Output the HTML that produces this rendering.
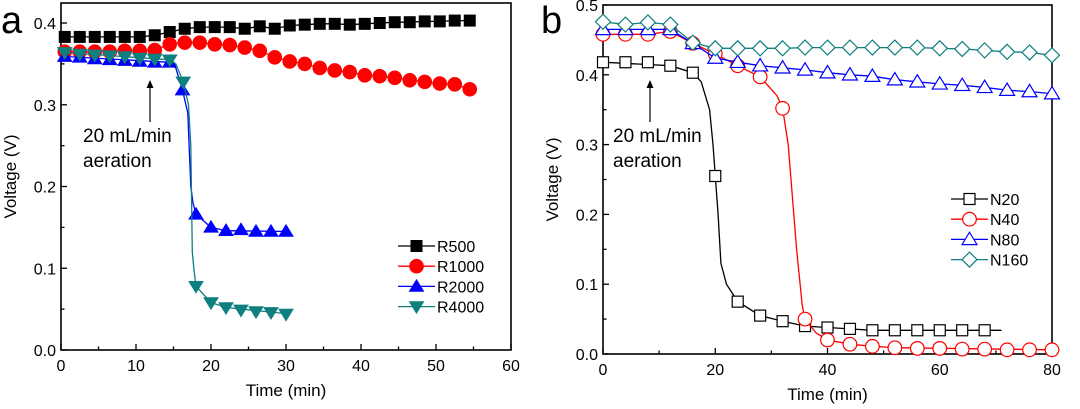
<!DOCTYPE html>
<html><head><meta charset="utf-8"><style>
html,body{margin:0;padding:0;background:#fff;}
svg{display:block;font-family:"Liberation Sans",Arial,sans-serif;}
</style></head><body>
<svg id="s" width="1080" height="409" viewBox="0 0 1080 409" xmlns="http://www.w3.org/2000/svg">
<text x="1" y="33" font-size="38" fill="#000">a</text>
<text x="541" y="33" font-size="38" fill="#000">b</text>
</svg>
<script>
const S=document.getElementById('s');const NS='http://www.w3.org/2000/svg';
function el(t,a,txt){const e=document.createElementNS(NS,t);for(const k in a)e.setAttribute(k,a[k]);if(txt!==undefined)e.textContent=txt;S.appendChild(e);return e;}
function panel(P){
 const X=v=>P.x0+(v-P.xmin)/(P.xmax-P.xmin)*(P.x1-P.x0);
 const Y=v=>P.y0-(v)/(P.ymax)*(P.y0-P.y1);
 for(let v=0;v<=P.xmax+1e-9;v+=P.xminor){const maj=Math.abs(v/P.xmajor-Math.round(v/P.xmajor))<1e-6;const x=X(v);
  el('line',{x1:x,x2:x,y1:P.y0,y2:P.y0-(maj?6:3.5),stroke:'#000','stroke-width':1.3});
  if(maj) el('text',{x:x,y:P.y0+21,'font-size':16,'text-anchor':'middle'},String(v));}
 for(let v=0;v<=P.ymax+1e-9;v+=P.yminor){const maj=Math.abs(v/P.ymajor-Math.round(v/P.ymajor))<1e-6;const y=Y(v);
  el('line',{x1:P.x0,x2:P.x0+(maj?6:3.5),y1:y,y2:y,stroke:'#000','stroke-width':1.3});
  if(maj) el('text',{x:P.x0-5,y:y+6,'font-size':16,'text-anchor':'end'},v.toFixed(1));}
 el('rect',{x:P.x0,y:P.y1,width:P.x1-P.x0,height:P.y0-P.y1,fill:'none',stroke:'#000','stroke-width':1.6});
 el('text',{x:(P.x0+P.x1)/2,y:P.y0+46,'font-size':17,'text-anchor':'middle'},'Time (min)');
 el('text',{x:0,y:0,'font-size':17,'text-anchor':'middle',transform:`translate(${P.x0-45},${(P.y0+P.y1)/2}) rotate(-90)`},'Voltage (V)');
 const a=P.arrow;el('line',{x1:a[0],x2:a[0],y1:a[2],y2:a[1]+6,stroke:'#000','stroke-width':1.2});
 el('polygon',{points:`${a[0]-3.5},${a[1]+8} ${a[0]+3.5},${a[1]+8} ${a[0]},${a[1]}`,fill:'#000'});
 el('text',{x:P.ann[0],y:P.ann[1],'font-size':19},'20 mL/min');el('text',{x:P.ann[0],y:P.ann[1]+25,'font-size':19},'aeration');
 P.series.forEach((s,i)=>{
  const pts=s.line.map(p=>X(p[0]).toFixed(1)+','+Y(p[1]).toFixed(1)).join(' ');
  el('polyline',{points:pts,fill:'none',stroke:s.c,'stroke-width':1.3});
  s.m.forEach(p=>mark(s,X(p[0]),Y(p[1])));
  const ly=P.leg[1]+i*P.legdy,lx=P.leg[0];
  el('line',{x1:lx,x2:lx+37,y1:ly,y2:ly,stroke:s.c,'stroke-width':1.3});mark(s,lx+18.5,ly);
  el('text',{x:lx+39,y:ly+6,'font-size':16},s.n);
 });
}
function mark(s,x,y){const r=s.r||6;const f=s.open?'#fff':s.c;const st={fill:f,stroke:s.c,'stroke-width':s.open?1.2:1};
 if(s.t=='sq')el('rect',Object.assign({x:x-r,y:y-r,width:2*r,height:2*r},st));
 else if(s.t=='ci')el('circle',Object.assign({cx:x,cy:y,r:r+0.8},st));
 else if(s.t=='up')el('polygon',Object.assign({points:`${x-r-1},${y+r*0.8} ${x+r+1},${y+r*0.8} ${x},${y-r*1.1}`},st));
 else if(s.t=='dn')el('polygon',Object.assign({points:`${x-r-1},${y-r*0.8} ${x+r+1},${y-r*0.8} ${x},${y+r*1.1}`},st));
 else if(s.t=='di')el('polygon',Object.assign({points:`${x},${y-r-1.5} ${x+r+1.5},${y} ${x},${y+r+1.5} ${x-r-1.5},${y}`},st));}
function mk(xs,ys){return xs.map((x,i)=>[x,ys[i]]);}
const tA=[];for(let i=0;i<28;i++)tA.push(0.5+2*i);
const r500=[.383,.383,.383,.383,.383,.383,.385,.389,.393,.395,.395,.395,.393,.396,.393,.397,.398,.399,.399,.398,.399,.400,.401,.401,.402,.402,.403,.403];
const r1000=[.365,.365,.365,.365,.366,.366,.367,.374,.376,.376,.374,.373,.370,.366,.358,.353,.350,.345,.342,.340,.336,.335,.333,.330,.328,.326,.325,.319];
const r2m=mk([0.5,2.5,4.5,6.5,8.5,10.5,12.5,14.5,16.2,18,20,22,24,26,28,30],[.359,.358,.356,.355,.354,.353,.352,.352,.318,.166,.150,.146,.147,.145,.145,.145]);
const r2l=[[0.5,.359],[14.5,.352],[15.3,.345],[16.2,.318],[16.9,.29],[17.3,.2],[17.6,.18],[18,.166],[20,.150],[22,.146],[30.5,.145]];
const r4m=mk([0.5,2.5,4.5,6.5,8.5,10.5,12.5,14.5,16.3,18,20,22,24,26,28,30],[.364,.362,.361,.360,.359,.357,.356,.355,.328,.078,.058,.052,.049,.047,.046,.044]);
const r4l=[[0.5,.364],[14.5,.355],[15.3,.35],[16.3,.328],[17,.3],[17.3,.25],[17.5,.12],[17.7,.1],[18,.078],[20,.058],[22,.052],[30.5,.044]];
panel({x0:61,x1:511,y0:350,y1:3,xmin:0,xmax:60,ymax:0.4245,xmajor:10,xminor:5,ymajor:0.1,yminor:0.05,
 arrow:[150,80,122],ann:[83,142],leg:[398,246],legdy:20.2,
 series:[
 {n:'R500',c:'#000',t:'sq',m:mk(tA,r500),line:mk(tA,r500),r:5.5},
 {n:'R1000',c:'#f00',t:'ci',m:mk(tA,r1000),line:mk(tA,r1000)},
 {n:'R2000',c:'#00f',t:'up',m:r2m,line:r2l},
 {n:'R4000',c:'#0f7f7f',t:'dn',m:r4m,line:r4l}]});
const tB=[];for(let i=0;i<=20;i++)tB.push(4*i);
const n20=[.418,.418,.418,.413,.403,.255,.075,.055,.047,.040,.038,.036,.034,.034,.034,.034,.034,.034];
const n20l=[[0,.418],[12,.413],[16,.403],[17.5,.39],[19,.35],[19.6,.3],[20,.255],[20.5,.2],[21,.13],[22,.1],[24,.075],[28,.055],[32,.047],[36,.040],[40,.038],[44,.036],[48,.034],[71,.034]];
const n40=[.458,.458,.458,.462,.445,.430,.413,.397,.352,.050,.020,.014,.011,.009,.008,.008,.007,.007,.006,.006,.006];
const n40l=[[0,.458],[8,.458],[12,.462],[16,.445],[20,.43],[24,.413],[28,.397],[31,.37],[32,.352],[33,.3],[34.5,.15],[35.5,.07],[36,.05],[38,.03],[40,.02],[44,.014],[48,.011],[52,.009],[80,.006]];
const n80=[.465,.465,.465,.465,.445,.424,.418,.413,.410,.407,.403,.400,.398,.393,.390,.387,.385,.382,.378,.376,.373];
const n160=[.476,.472,.475,.472,.446,.438,.438,.438,.438,.439,.439,.439,.439,.439,.439,.438,.437,.435,.433,.432,.428];
panel({x0:603,x1:1052,y0:354,y1:5,xmin:0,xmax:80,ymax:0.5,xmajor:20,xminor:10,ymajor:0.1,yminor:0.05,
 arrow:[650,80,122],ann:[613,142],leg:[951,199],legdy:20.2,
 series:[
 {n:'N20',c:'#000',t:'sq',open:1,m:mk(tB.slice(0,18),n20),line:n20l,r:5.5},
 {n:'N40',c:'#f00',t:'ci',open:1,m:mk(tB,n40),line:n40l},
 {n:'N80',c:'#00f',t:'up',open:1,m:mk(tB,n80),line:mk(tB,n80),r:6.5},
 {n:'N160',c:'#0f7f7f',t:'di',open:1,m:mk(tB,n160),line:mk(tB,n160)}]});
</script>
</body></html>
